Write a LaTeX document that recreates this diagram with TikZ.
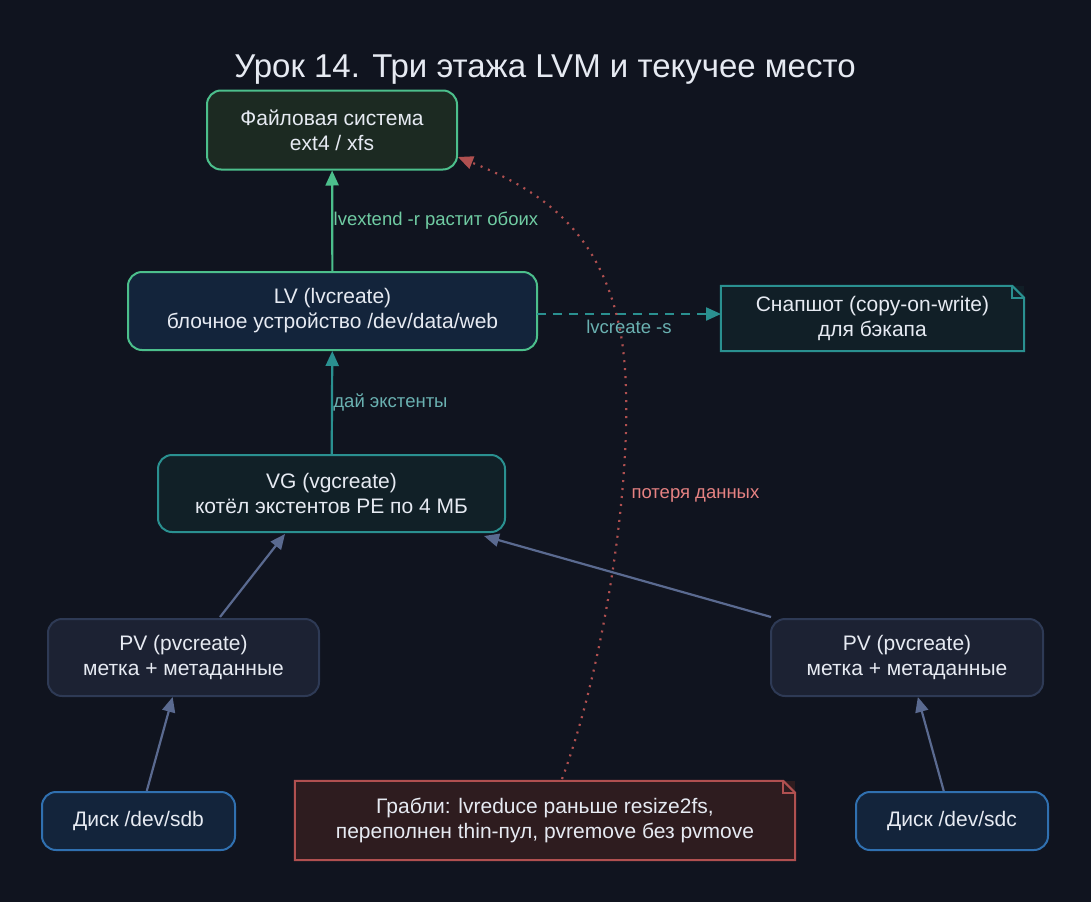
\documentclass[tikz,border=0pt]{standalone}
\usepackage{fontspec}
\setmainfont{Liberation Sans}
\usetikzlibrary{shapes.misc,arrows.meta}
\definecolor{bg}{HTML}{10141F}
\definecolor{grn}{HTML}{4CBF8C}
\definecolor{teal}{HTML}{2A9090}
\definecolor{slate}{HTML}{5A6A90}
\definecolor{blu}{HTML}{3070B0}
\definecolor{redd}{HTML}{B05050}
\definecolor{txt}{HTML}{E6EAF2}
\definecolor{fsfill}{HTML}{1C2A22}
\definecolor{lvfill}{HTML}{13243B}
\definecolor{vgfill}{HTML}{112027}
\definecolor{pvfill}{HTML}{1C2233}
\definecolor{pvdraw}{HTML}{2E3A55}
\definecolor{snfill}{HTML}{111F27}
\definecolor{grfill}{HTML}{2E1C1F}
\definecolor{redtxt}{HTML}{E68282}
\tikzset{
 box/.style={draw,line width=2pt,rounded corners=14pt,align=center,text=txt,font=\fontsize{21}{25}\selectfont,inner sep=0pt},
 note/.style={draw=none,align=center,text=txt,font=\fontsize{21}{25}\selectfont,inner sep=0pt},
 arr/.style={line width=2.2pt,-{Triangle[length=15pt,width=13pt]}},
 lbl/.style={font=\fontsize{18.5}{22}\selectfont}
}
\newcommand{\notebox}[2]{%
 \draw[#2,line width=2pt] (#1.north west) -- ([xshift=-12pt]#1.north east) -- ([yshift=-12pt]#1.north east) -- (#1.south east) -- (#1.south west) -- cycle;
 \draw[#2,line width=2pt] ([xshift=-12pt]#1.north east) -- ([xshift=-12pt,yshift=-12pt]#1.north east) -- ([yshift=-12pt]#1.north east);}
\begin{document}
\begin{tikzpicture}[x=1pt,y=-1pt]
\fill[bg] (0,0) rectangle (1091,902);
\useasboundingbox (0,0) rectangle (1091,902);
\node[text=txt,font=\fontsize{33}{38}\selectfont] (title) at (545,70) {Урок 14. Три этажа LVM и текучее место};
\node[box,draw=grn,fill=fsfill,minimum width=250pt,minimum height=79pt] (fs) at (332,130) {Файловая система\\ext4 / xfs};
\node[box,draw=grn,fill=lvfill,minimum width=409pt,minimum height=78pt] (lv) at (332.5,311) {LV (lvcreate)\\блочное устройство /dev/data/web};
\node[box,draw=teal,fill=vgfill,minimum width=347pt,minimum height=77pt] (vg) at (331.5,493.5) {VG (vgcreate)\\котёл экстентов PE по 4 МБ};
\node[box,draw=pvdraw,fill=pvfill,minimum width=271pt,minimum height=77pt] (pv1) at (183.5,657.5) {PV (pvcreate)\\метка + метаданные};
\node[box,draw=pvdraw,fill=pvfill,minimum width=272pt,minimum height=77pt] (pv2) at (907,657.5) {PV (pvcreate)\\метка + метаданные};
\node[box,draw=blu,fill=lvfill,minimum width=193pt,minimum height=58pt] (d1) at (138.5,821) {Диск /dev/sdb};
\node[box,draw=blu,fill=lvfill,minimum width=192pt,minimum height=58pt] (d2) at (952,821) {Диск /dev/sdc};
\node[note,fill=snfill,minimum width=303pt,minimum height=65pt] (snap) at (872.5,318.5) {};
\notebox{snap}{teal}
\node[note] (snapt) at (snap) {Снапшот (copy-on-write)\\для бэкапа};
\node[note,fill=grfill,minimum width=500pt,minimum height=79pt] (gr) at (545,820.5) {};
\notebox{gr}{redd}
\node[note] (grt) at (gr) {Грабли: lvreduce раньше resize2fs,\\переполнен thin-пул, pvremove без pvmove};
\draw[arr,slate] (d1) -- (pv1);
\draw[arr,slate] (d2) -- (pv2);
\coordinate (p1) at (220,617);
\coordinate (p2) at (771,617);
\coordinate (v1) at (285,534);
\coordinate (v2) at (484,536);
\draw[arr,slate] (p1) -- (v1);
\draw[arr,slate] (p2) -- (v2);
\draw[arr,teal] (vg) -- node[lbl,text=teal!70!white,right,pos=0.5,xshift=-3pt]{дай экстенты} (lv);
\draw[arr,grn] (lv) -- node[lbl,text=grn!80!white,right,pos=0.5,xshift=-3pt]{lvextend -r растит обоих} (fs);
\coordinate (le) at (537,314);
\coordinate (se) at (721,314);
\draw[arr,teal,dash pattern=on 9pt off 7pt] (le) -- node[lbl,text=teal!70!white,below,pos=0.5,yshift=-2pt]{lvcreate -s} (se);
\coordinate (g1) at (562,779);
\coordinate (f1) at (458,157);
\draw[redd,line width=2.2pt,dash pattern=on 2pt off 6pt,-{Triangle[length=15pt,width=13pt]}] (g1) .. controls (610,650) and (640,430) .. (620,330) .. controls (600,230) and (540,190) .. (f1);
\node[lbl,text=redtxt,anchor=west] (lossl) at (628,495) {потеря данных};
\end{tikzpicture}
\end{document}
